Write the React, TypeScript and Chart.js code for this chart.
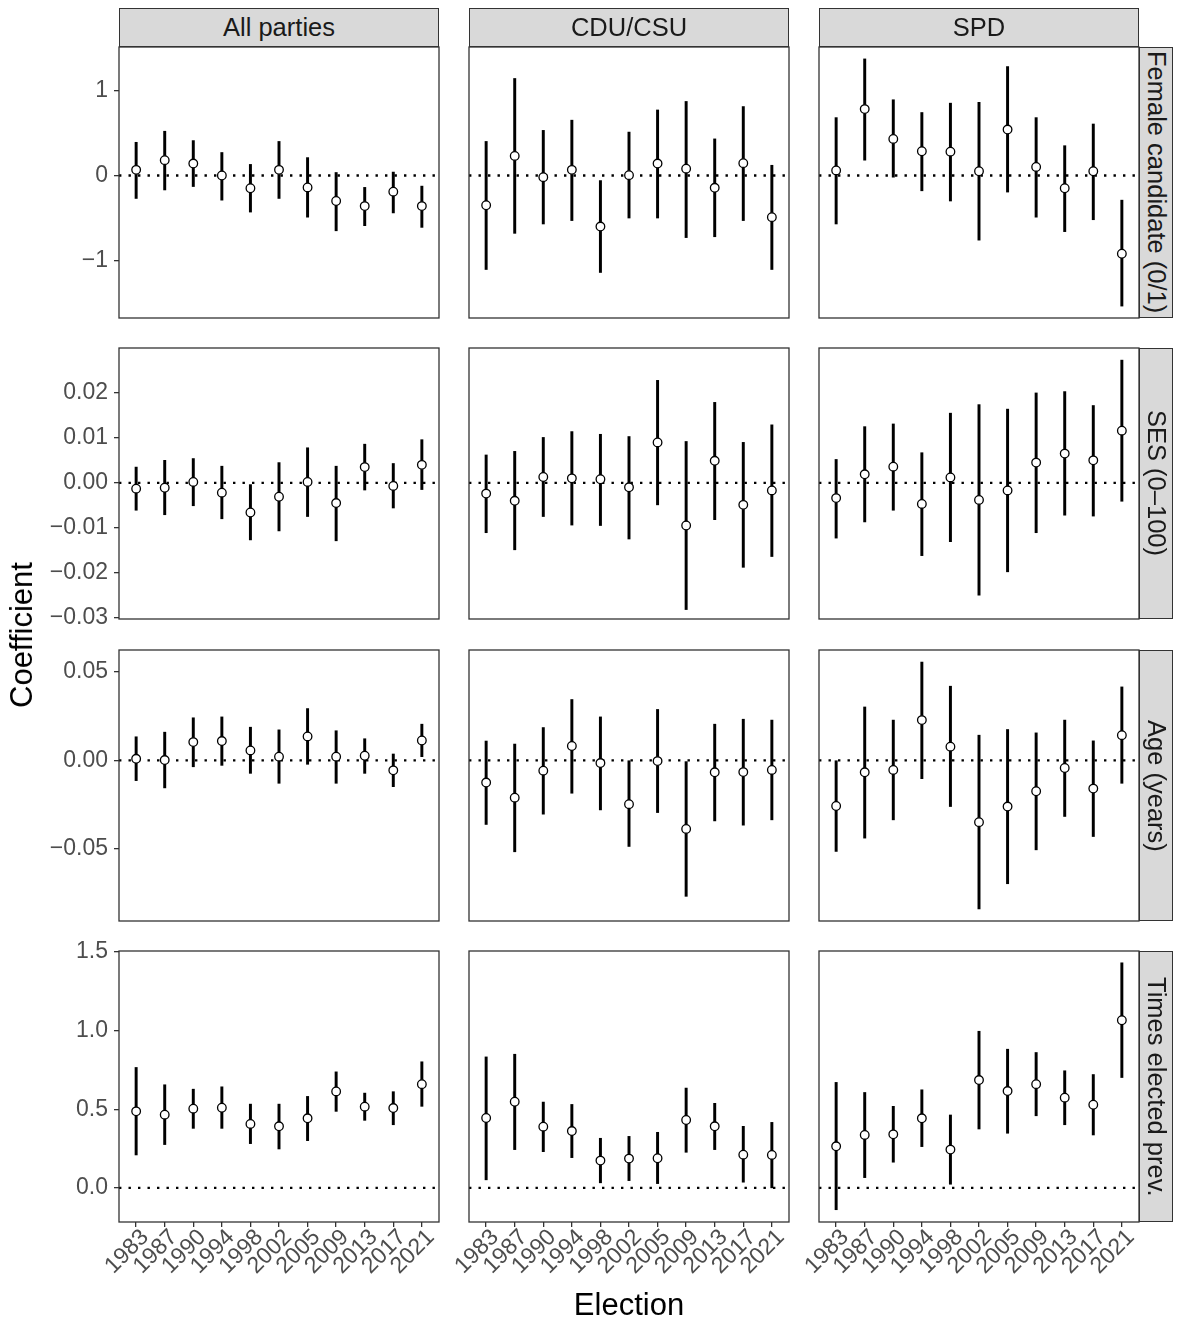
import React, { useEffect, useRef } from 'react';
import { Chart, registerables } from 'chart.js';

Chart.register(...registerables);

// ---------- data ----------
const elections = ['1983', '1987', '1990', '1994', '1998', '2002', '2005', '2009', '2013', '2017', '2021'];
const parties = ['All parties', 'CDU/CSU', 'SPD'];
const variables = ['Female candidate (0/1)', 'SES (0–100)', 'Age (years)', 'Times elected prev.'];

// Female candidate
const femaleAllEst = [0.066, 0.18, 0.14, 0.0, -0.15, 0.066, -0.14, -0.30, -0.36, -0.19, -0.36];
const femaleAllLo = [-0.27, -0.17, -0.13, -0.29, -0.43, -0.27, -0.49, -0.65, -0.59, -0.44, -0.61];
const femaleAllHi = [0.39, 0.52, 0.41, 0.27, 0.13, 0.40, 0.21, 0.035, -0.14, 0.04, -0.125];
const femaleCduEst = [-0.35, 0.23, -0.02, 0.066, -0.60, 0.004, 0.14, 0.08, -0.145, 0.145, -0.49];
const femaleCduLo = [-1.105, -0.68, -0.57, -0.53, -1.14, -0.50, -0.50, -0.73, -0.72, -0.53, -1.105];
const femaleCduHi = [0.40, 1.14, 0.53, 0.65, -0.06, 0.51, 0.77, 0.87, 0.43, 0.81, 0.12];
const femaleSpdEst = [0.06, 0.78, 0.43, 0.285, 0.28, 0.05, 0.54, 0.10, -0.15, 0.05, -0.92];
const femaleSpdLo = [-0.57, 0.18, -0.02, -0.18, -0.30, -0.76, -0.195, -0.49, -0.66, -0.52, -1.535];
const femaleSpdHi = [0.68, 1.37, 0.89, 0.74, 0.85, 0.86, 1.28, 0.68, 0.35, 0.605, -0.29];

// SES
const sesAllEst = [-0.0013, -0.0011, 0.0002, -0.0022, -0.0066, -0.0031, 0.0002, -0.0045, 0.0035, -0.0007, 0.0040];
const sesAllLo = [-0.0061, -0.0071, -0.0051, -0.0080, -0.0127, -0.0107, -0.0075, -0.0129, -0.0016, -0.0056, -0.0015];
const sesAllHi = [0.0035, 0.0050, 0.0054, 0.0037, -0.0004, 0.0045, 0.0078, 0.0037, 0.0086, 0.0043, 0.0096];
const sesCduEst = [-0.0024, -0.0040, 0.0013, 0.0010, 0.0008, -0.0010, 0.0090, -0.0095, 0.0049, -0.0049, -0.0017];
const sesCduLo = [-0.0111, -0.0149, -0.0075, -0.0094, -0.0095, -0.0125, -0.0049, -0.0282, -0.0082, -0.0188, -0.0164];
const sesCduHi = [0.0062, 0.0070, 0.0101, 0.0114, 0.0108, 0.0103, 0.0228, 0.0092, 0.0179, 0.0090, 0.0129];
const sesSpdEst = [-0.0034, 0.0019, 0.0036, -0.0047, 0.0012, -0.0038, -0.0017, 0.0045, 0.0065, 0.0050, 0.0116];
const sesSpdLo = [-0.0123, -0.0087, -0.0061, -0.0162, -0.0131, -0.0250, -0.0198, -0.0111, -0.0072, -0.0074, -0.0041];
const sesSpdHi = [0.0052, 0.0125, 0.0131, 0.0067, 0.0155, 0.0174, 0.0164, 0.0200, 0.0203, 0.0172, 0.0273];

// Age
const ageAllEst = [0.0009, 0.0002, 0.0103, 0.0109, 0.0056, 0.0021, 0.0135, 0.0021, 0.0026, -0.0056, 0.0112];
const ageAllLo = [-0.0114, -0.0155, -0.0036, -0.0028, -0.0073, -0.0129, -0.0022, -0.0129, -0.0073, -0.0148, 0.0021];
const ageAllHi = [0.0133, 0.0159, 0.0240, 0.0245, 0.0187, 0.0172, 0.0292, 0.0167, 0.0122, 0.0036, 0.0204];
const ageCduEst = [-0.0125, -0.0210, -0.0058, 0.0081, -0.0015, -0.0247, -0.0004, -0.0386, -0.0067, -0.0066, -0.0054];
const ageCduLo = [-0.0361, -0.0515, -0.0303, -0.0185, -0.0279, -0.0485, -0.0294, -0.0766, -0.0341, -0.0365, -0.0335];
const ageCduHi = [0.0109, 0.0092, 0.0185, 0.0343, 0.0245, -0.0002, 0.0287, -0.0007, 0.0204, 0.0232, 0.0227];
const ageSpdEst = [-0.0257, -0.0067, -0.0054, 0.0227, 0.0077, -0.0348, -0.0260, -0.0174, -0.0043, -0.0159, 0.0142];
const ageSpdLo = [-0.0513, -0.0438, -0.0335, -0.0103, -0.0260, -0.0837, -0.0695, -0.0504, -0.0316, -0.0429, -0.0129];
const ageSpdHi = [-0.0002, 0.0301, 0.0227, 0.0554, 0.0418, 0.0142, 0.0174, 0.0155, 0.0227, 0.0110, 0.0414];

// Times elected previously
const timesAllEst = [0.486, 0.465, 0.503, 0.509, 0.406, 0.391, 0.442, 0.613, 0.516, 0.507, 0.659];
const timesAllLo = [0.209, 0.275, 0.378, 0.378, 0.281, 0.247, 0.300, 0.486, 0.429, 0.401, 0.518];
const timesAllHi = [0.765, 0.655, 0.627, 0.642, 0.532, 0.532, 0.581, 0.737, 0.602, 0.611, 0.801];
const timesCduEst = [0.444, 0.547, 0.389, 0.361, 0.173, 0.186, 0.188, 0.431, 0.391, 0.211, 0.209];
const timesCduLo = [0.051, 0.243, 0.230, 0.192, 0.032, 0.046, 0.027, 0.226, 0.243, 0.036, 0.0];
const timesCduHi = [0.832, 0.849, 0.545, 0.530, 0.315, 0.327, 0.353, 0.634, 0.537, 0.391, 0.416];
const timesSpdEst = [0.264, 0.336, 0.340, 0.442, 0.243, 0.685, 0.615, 0.659, 0.573, 0.528, 1.065];
const timesSpdLo = [-0.139, 0.065, 0.163, 0.262, 0.023, 0.374, 0.347, 0.458, 0.401, 0.336, 0.701];
const timesSpdHi = [0.670, 0.606, 0.518, 0.623, 0.463, 0.995, 0.881, 0.860, 0.744, 0.720, 1.430];

// y-axis ticks and limits per row
const femaleTicks = [-1, 0, 1];
const femaleTickLabels = ['−1', '0', '1'];
const sesTicks = [-0.03, -0.02, -0.01, 0, 0.01, 0.02];
const sesTickLabels = ['−0.03', '−0.02', '−0.01', '0.00', '0.01', '0.02'];
const ageTicks = [-0.05, 0, 0.05];
const ageTickLabels = ['−0.05', '0.00', '0.05'];
const timesTicks = [0, 0.5, 1, 1.5];
const timesTickLabels = ['0.0', '0.5', '1.0', '1.5'];
const rowMin = [-1.675, -0.0303, -0.0905, -0.217];
const rowMax = [1.51, 0.0300, 0.0622, 1.505];

// ---------- layout ----------
const FONT = '"Liberation Sans", Arial, Helvetica, sans-serif';
const PANEL_LEFT = [119, 469, 819];
const PANEL_W = 320;
const PANEL_TOP = [47, 348, 650, 951];
const PANEL_H = 271;
const STRIP_TOP = 8;
const RSTRIP_W = 34;
const PAD_L = 50, PAD_R = 14, PAD_T = 26, PAD_B = 26;
const Y_AX = 80, X_AX = 70;

const panelData = [
  [[femaleAllEst, femaleAllLo, femaleAllHi], [femaleCduEst, femaleCduLo, femaleCduHi], [femaleSpdEst, femaleSpdLo, femaleSpdHi]],
  [[sesAllEst, sesAllLo, sesAllHi], [sesCduEst, sesCduLo, sesCduHi], [sesSpdEst, sesSpdLo, sesSpdHi]],
  [[ageAllEst, ageAllLo, ageAllHi], [ageCduEst, ageCduLo, ageCduHi], [ageSpdEst, ageSpdLo, ageSpdHi]],
  [[timesAllEst, timesAllLo, timesAllHi], [timesCduEst, timesCduLo, timesCduHi], [timesSpdEst, timesSpdLo, timesSpdHi]],
];
const rowTicks = [femaleTicks, sesTicks, ageTicks, timesTicks];
const rowTickLabels = [femaleTickLabels, sesTickLabels, ageTickLabels, timesTickLabels];

const decoPlugin = {
  id: 'facetDeco',
  beforeDatasetsDraw(chart: any) {
    const { ctx, chartArea } = chart;
    const y0 = chart.scales.y.getPixelForValue(0);
    ctx.save();
    ctx.strokeStyle = '#000';
    ctx.lineWidth = 2.3;
    ctx.setLineDash([2.4, 7.1]);
    ctx.beginPath();
    ctx.moveTo(chartArea.left, y0);
    ctx.lineTo(chartArea.right, y0);
    ctx.stroke();
    ctx.restore();
  },
  afterDraw(chart: any) {
    const { ctx, chartArea } = chart;
    ctx.save();
    ctx.strokeStyle = '#333333';
    ctx.lineWidth = 1.3;
    ctx.strokeRect(chartArea.left, chartArea.top, chartArea.right - chartArea.left, chartArea.bottom - chartArea.top);
    ctx.restore();
  },
};

function Panel({ row, col }: { row: number; col: number }) {
  const ref = useRef<HTMLCanvasElement>(null);
  const showY = col === 0;
  const showX = row === 3;
  const width = PANEL_W + PAD_L + PAD_R + (showY ? Y_AX : 0);
  const height = PANEL_H + PAD_T + PAD_B + (showX ? X_AX : 0);
  const left = PANEL_LEFT[col] - PAD_L - (showY ? Y_AX : 0);
  const top = PANEL_TOP[row] - PAD_T;

  useEffect(() => {
    const [est, lo, hi] = panelData[row][col];
    const ticks = rowTicks[row];
    const tickLabels = rowTickLabels[row];
    const chart = new Chart(ref.current as HTMLCanvasElement, {
      type: 'scatter',
      data: {
        datasets: [
          {
            type: 'scatter',
            data: est.map((v, i) => ({ x: i, y: v })),
            pointRadius: 4.3,
            pointHoverRadius: 4.3,
            pointBackgroundColor: '#ffffff',
            pointBorderColor: '#000000',
            pointBorderWidth: 1.3,
            order: 0,
          } as any,
          {
            type: 'bar',
            data: lo.map((v, i) => ({ x: i, y: [v, hi[i]] })),
            backgroundColor: '#000000',
            borderWidth: 0,
            barThickness: 2.3,
            order: 1,
          } as any,
        ],
      },
      options: {
        responsive: false,
        animation: false,
        devicePixelRatio: 1,
        events: [],
        layout: { padding: { left: PAD_L, right: PAD_R, top: PAD_T, bottom: PAD_B }, autoPadding: false },
        plugins: { legend: { display: false }, tooltip: { enabled: false } },
        scales: {
          x: {
            type: 'linear',
            min: -0.6,
            max: 10.6,
            offset: false,
            display: showX,
            afterBuildTicks: (s: any) => {
              s.ticks = elections.map((_, i) => ({ value: i }));
            },
            afterFit: (s: any) => {
              if (showX) s.height = X_AX;
            },
            grid: { display: true, drawOnChartArea: false, drawTicks: true, tickLength: 5, color: '#333333', lineWidth: 1.3, offset: false },
            border: { display: false },
            ticks: {
              autoSkip: false,
              minRotation: 45,
              maxRotation: 45,
              padding: -3,
              labelOffset: 9,
              color: '#4D4D4D',
              font: { family: FONT, size: 23 },
              callback: (_v: any, i: number) => elections[i],
            },
          },
          y: {
            type: 'linear',
            min: rowMin[row],
            max: rowMax[row],
            display: showY,
            afterBuildTicks: (s: any) => {
              s.ticks = ticks.map((v) => ({ value: v }));
            },
            afterFit: (s: any) => {
              if (showY) s.width = Y_AX;
            },
            grid: { display: true, drawOnChartArea: false, drawTicks: true, tickLength: 5, color: '#333333', lineWidth: 1.3 },
            border: { display: false },
            ticks: {
              padding: 6,
              color: '#4D4D4D',
              font: { family: FONT, size: 23 },
              callback: (_v: any, i: number) => tickLabels[i],
            },
          },
        },
      } as any,
      plugins: [decoPlugin],
    });
    return () => chart.destroy();
  }, [row, col]);

  return (
    <canvas
      ref={ref}
      width={width}
      height={height}
      style={{ position: 'absolute', left, top, width, height }}
    />
  );
}

export default function App() {
  const panels: React.ReactNode[] = [];
  for (let r = 0; r < 4; r++) {
    for (let c = 0; c < 3; c++) {
      panels.push(<Panel key={`p${r}${c}`} row={r} col={c} />);
    }
  }
  const stripStyle: React.CSSProperties = {
    position: 'absolute',
    boxSizing: 'border-box',
    background: '#D9D9D9',
    border: '1.3px solid #333333',
    color: '#1A1A1A',
    fontFamily: FONT,
    fontSize: 25.5,
    display: 'flex',
    alignItems: 'center',
    justifyContent: 'center',
    whiteSpace: 'nowrap',
  };
  return (
    <div style={{ position: 'absolute', left: 0, top: 0, width: 1177, height: 1323, background: '#ffffff', overflow: 'hidden' }}>
      {panels}
      {parties.map((p, c) => (
        <div key={p} style={{ ...stripStyle, left: PANEL_LEFT[c], top: STRIP_TOP, width: PANEL_W, height: PANEL_TOP[0] - STRIP_TOP }}>
          {p}
        </div>
      ))}
      {variables.map((v, r) => (
        <div
          key={v}
          style={{
            ...stripStyle,
            left: PANEL_LEFT[2] + PANEL_W,
            top: PANEL_TOP[r],
            width: RSTRIP_W,
            height: PANEL_H,
            writingMode: 'vertical-rl',
          }}
        >
          {v}
        </div>
      ))}
      <div
        style={{
          position: 'absolute',
          left: 22,
          top: (PANEL_TOP[0] + PANEL_TOP[3] + PANEL_H) / 2,
          transform: 'translate(-50%, -50%) rotate(-90deg)',
          fontFamily: FONT,
          fontSize: 31,
          color: '#000',
          whiteSpace: 'nowrap',
        }}
      >
        Coefficient
      </div>
      <div
        style={{
          position: 'absolute',
          left: (PANEL_LEFT[0] + PANEL_LEFT[2] + PANEL_W) / 2,
          top: 1305,
          transform: 'translate(-50%, -50%)',
          fontFamily: FONT,
          fontSize: 31,
          color: '#000',
          whiteSpace: 'nowrap',
        }}
      >
        Election
      </div>
    </div>
  );
}
